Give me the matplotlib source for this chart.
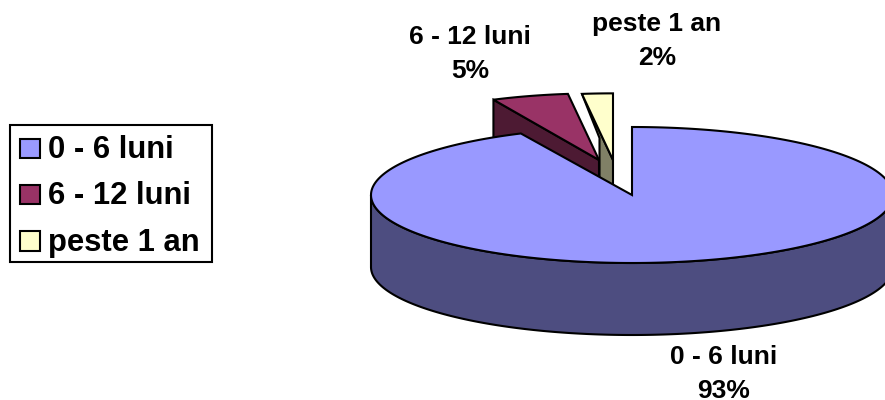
import numpy as np
import matplotlib
matplotlib.use("Agg")
import matplotlib.pyplot as plt
from matplotlib.patches import Polygon, Rectangle

categories = ["0 - 6 luni", "6 - 12 luni", "peste 1 an"]
values = [93, 5, 2]
top_colors = ["#9999FF", "#993366", "#FFFFCC"]
wall_colors = ["#4D4D80", "#4D1A33", "#808066"]

plt.rcParams["font.family"] = ["Liberation Sans", "DejaVu Sans"]
fig = plt.figure(figsize=(8.85, 4.0), dpi=100)
ax = fig.add_axes([0, 0, 1, 1])
ax.set_xlim(0, 885)
ax.set_ylim(400, 0)
ax.axis("off")

LW = 1.5
CX, CY, RX, RY, DEPTH = 632, 195, 261, 68, 72
apexes = [(632, 195), (599, 160), (613, 160)]
scale = [(1, 1), (0.95, 0.98), (0.95, 0.98)]

fr = np.cumsum([0] + values) / sum(values) * 2 * np.pi


def rim(i, t):
    ax0, ay0 = apexes[i]
    return ax0 + RX * scale[i][0] * np.sin(t), ay0 - RY * scale[i][1] * np.cos(t)


def poly(pts, color, z):
    ax.add_patch(Polygon(pts, closed=True, facecolor=color, edgecolor="black",
                         linewidth=LW, joinstyle="miter", zorder=z, clip_on=True))


def sector(i):
    t = np.linspace(fr[i], fr[i + 1], 300)
    x, y = rim(i, t)
    return [apexes[i]] + list(zip(x, y))


# peste 1 an: cut face and top
sx, sy = rim(2, fr[2])
ax3, ay3 = apexes[2]
poly([(sx, sy), (ax3, ay3), (ax3, ay3 + DEPTH), (599.5, ay3 + DEPTH), (599.5, 138)],
     wall_colors[2], 1)
poly(sector(2), top_colors[2], 2)

# 6 - 12 luni: cut face and top
sx, sy = rim(1, fr[1])
ax2, ay2 = apexes[1]
poly([(sx, sy), (ax2, ay2), (ax2, ay2 + DEPTH), (sx, sy + DEPTH)], wall_colors[1], 3)
poly(sector(1), top_colors[1], 4)

# 0 - 6 luni: wall and top
t = np.linspace(np.pi / 2, 3 * np.pi / 2, 400)
x = CX + RX * np.sin(t)
y = CY - RY * np.cos(t)
wall = list(zip(x, y)) + list(zip(x[::-1], y[::-1] + DEPTH))
poly(wall, wall_colors[0], 5)
poly(sector(0), top_colors[0], 6)

# Data labels
label_pos = [(724, 357, 391), (470, 37, 71), (657, 24, 58)]
for cat, val, (lx, y1, y2) in zip(categories, values, label_pos):
    ax.text(lx, y1, cat, ha="center", va="center", fontsize=19, fontweight="bold", zorder=8)
    ax.text(lx, y2, f"{val}%", ha="center", va="center", fontsize=19, fontweight="bold", zorder=8)

# Legend
ax.add_patch(Rectangle((9.5, 124.5), 202.5, 137.5, facecolor="white", edgecolor="black",
                       linewidth=LW, zorder=9))
for cat, col, yc in zip(categories, top_colors, [148, 194, 240.5]):
    ax.add_patch(Rectangle((20, yc - 9.5), 20, 19.5, facecolor=col, edgecolor="black",
                           linewidth=LW, zorder=10))
    ax.text(48, yc + 2, cat, ha="left", va="center", fontsize=22.3, fontweight="bold", zorder=10)

fig.savefig("out.png", dpi=100, facecolor="white")
